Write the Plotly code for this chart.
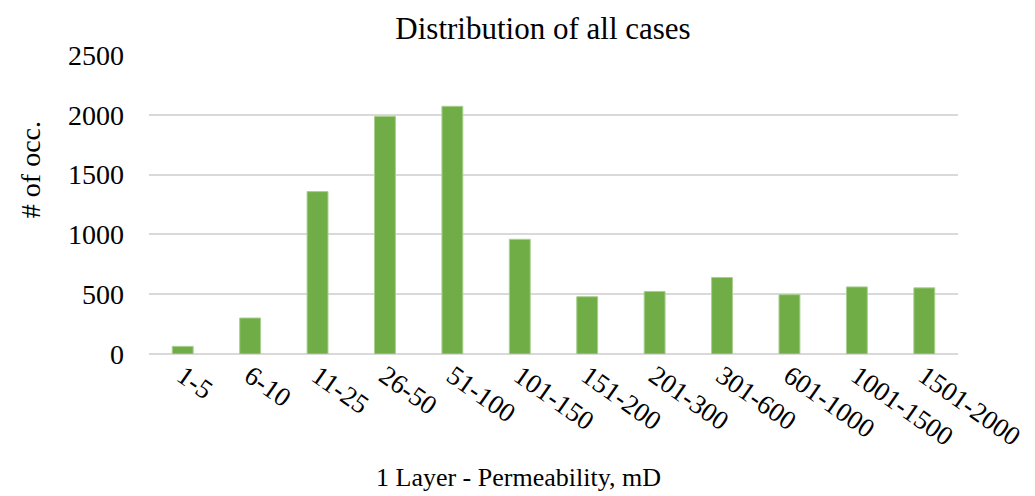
import plotly.graph_objects as go

categories = ["1-5", "6-10", "11-25", "26-50", "51-100", "101-150", "151-200",
              "201-300", "301-600", "601-1000", "1001-1500", "1501-2000"]
occurrences = [64, 301, 1358, 1987, 2071, 959, 479, 523, 640, 496, 561, 553]
y_ticks = [0, 500, 1000, 1500, 2000, 2500]

font_family = "Liberation Serif, Times New Roman, serif"
W, H = 1035, 496
PL, PR = 149, 77

fig = go.Figure(go.Bar(
    x=categories, y=occurrences,
    marker=dict(color="#70AD47", line=dict(color="#A9D08E", width=1)),
))

fig.update_layout(
    width=W, height=H,
    margin=dict(l=PL, r=PR, t=55, b=142),
    paper_bgcolor="white", plot_bgcolor="white",
    bargap=0.69,
    showlegend=False,
    font=dict(family=font_family, size=28, color="black"),
    title=dict(text="Distribution of all cases", x=(543 - PL) / (W - PL - PR),
               xanchor="center", xref="paper",
               y=1 - 28 / H, yanchor="middle", font=dict(size=31, family=font_family)),
    annotations=[
        dict(text="1 Layer - Permeability, mD", xref="paper", yref="paper",
             x=(518 - PL) / (W - PL - PR), y=-(477 - 353.5) / (353.5 - 55),
             xanchor="center", yanchor="middle", showarrow=False,
             font=dict(size=26, family=font_family)),
        dict(text="# of occ.", xref="paper", yref="paper", textangle=-90,
             x=-(PL - 30) / (W - PL - PR), y=(353.5 - 170) / (353.5 - 55),
             xanchor="center", yanchor="middle", showarrow=False,
             font=dict(size=28, family=font_family)),
    ],
)
fig.update_xaxes(
    tickangle=35, showgrid=False, showline=False, ticks="", automargin=False,
    tickfont=dict(size=27),
)
fig.update_yaxes(
    range=[0, 2500], tickvals=y_ticks, showgrid=True, gridcolor="#D9D9D9", gridwidth=1.5,
    zeroline=True, zerolinecolor="#D9D9D9", zerolinewidth=1.5,
    showline=False, ticks="", ticklabelstandoff=24, automargin=False,
    tickfont=dict(size=28),
)

fig.write_html("out.html")
